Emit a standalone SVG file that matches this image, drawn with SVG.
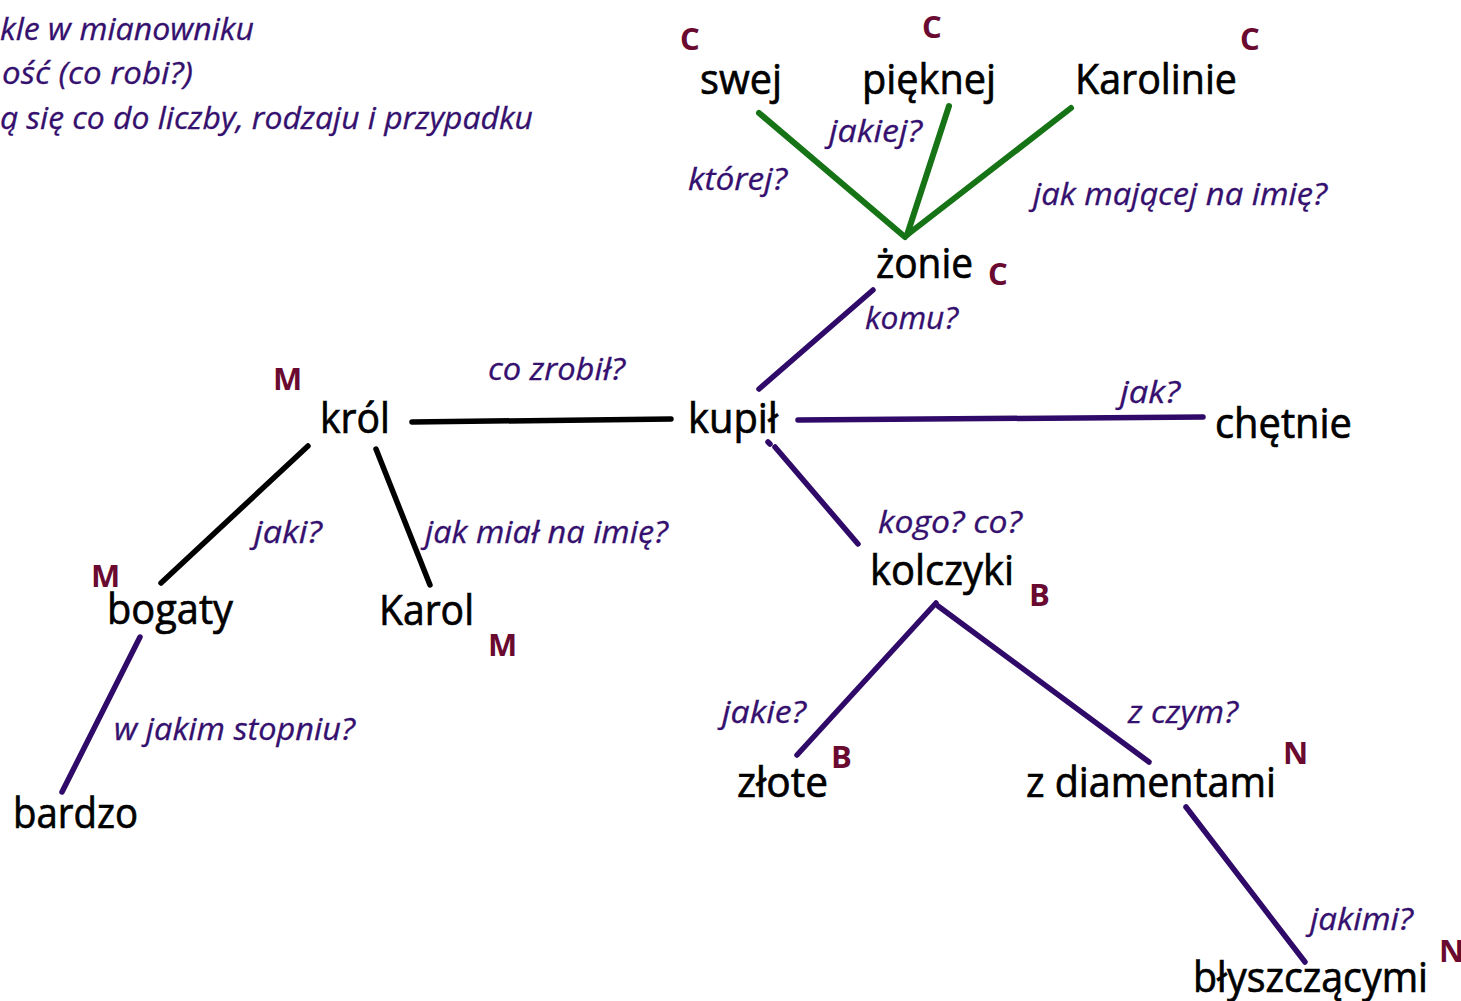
<svg xmlns="http://www.w3.org/2000/svg" width="1461" height="1001" viewBox="0 0 1461 1001">
<style>
.w{font-family:"Open Sans","Noto Sans",sans-serif;font-size:42px;fill:#000;stroke:#000;stroke-width:0.7px}
.q{font-family:"Open Sans","Noto Sans",sans-serif;font-size:31px;font-style:italic;fill:#35106e;stroke:#35106e;stroke-width:0.3px}
.c{font-family:"Open Sans","Noto Sans",sans-serif;font-size:31px;font-weight:bold;fill:#6a0a30}
.lg{stroke:#167416;stroke-width:6;stroke-linecap:round;fill:none}
.lp{stroke:#300a68;stroke-width:5.5;stroke-linecap:round;fill:none}
.lb{stroke:#000;stroke-width:5.5;stroke-linecap:round;fill:none}
</style>
<rect width="1461" height="1001" fill="#fff"/>
<g id="legend">
<text class="q" x="0" y="40" textLength="254" lengthAdjust="spacingAndGlyphs">kle w mianowniku</text>
<text class="q" x="2" y="84" textLength="191" lengthAdjust="spacingAndGlyphs">ość (co robi?)</text>
<text class="q" x="0" y="129" textLength="533" lengthAdjust="spacingAndGlyphs">ą się co do liczby, rodzaju i przypadku</text>
</g>
<g id="connectors">
<line class="lg" x1="759" y1="113" x2="905" y2="237"/>
<line class="lg" x1="949" y1="106" x2="907" y2="235"/>
<line class="lg" x1="1071" y1="108" x2="907" y2="235"/>
<line class="lp" x1="873" y1="290" x2="759" y2="389"/>
<line class="lp" x1="798" y1="420" x2="1203" y2="417"/>
<line class="lp" x1="768" y1="442" x2="770" y2="444"/>
<line class="lp" x1="775" y1="447" x2="858" y2="544"/>
<line class="lp" x1="936" y1="603" x2="797" y2="755"/>
<line class="lp" x1="938" y1="606" x2="1149" y2="762"/>
<line class="lp" x1="1186" y1="807" x2="1305" y2="962"/>
<line class="lp" x1="140" y1="637" x2="62" y2="792"/>
<line class="lb" x1="412" y1="422" x2="671" y2="419"/>
<line class="lb" x1="308" y1="446" x2="161" y2="583"/>
<line class="lb" x1="376" y1="449" x2="430" y2="585"/>
</g>
<g id="edge-labels">
<text class="q" x="829" y="142" textLength="93" lengthAdjust="spacingAndGlyphs">jakiej?</text>
<text class="q" x="688" y="190" textLength="99" lengthAdjust="spacingAndGlyphs">której?</text>
<text class="q" x="1033" y="205" textLength="294" lengthAdjust="spacingAndGlyphs">jak mającej na imię?</text>
<text class="q" x="865" y="329" textLength="93" lengthAdjust="spacingAndGlyphs">komu?</text>
<text class="q" x="488" y="380" textLength="137" lengthAdjust="spacingAndGlyphs">co zrobił?</text>
<text class="q" x="1120" y="403" textLength="60" lengthAdjust="spacingAndGlyphs">jak?</text>
<text class="q" x="254" y="543" textLength="68" lengthAdjust="spacingAndGlyphs">jaki?</text>
<text class="q" x="425" y="543" textLength="243" lengthAdjust="spacingAndGlyphs">jak miał na imię?</text>
<text class="q" x="878" y="533" textLength="144" lengthAdjust="spacingAndGlyphs">kogo? co?</text>
<text class="q" x="722" y="723" textLength="84" lengthAdjust="spacingAndGlyphs">jakie?</text>
<text class="q" x="1128" y="723" textLength="110" lengthAdjust="spacingAndGlyphs">z czym?</text>
<text class="q" x="114" y="740" textLength="241" lengthAdjust="spacingAndGlyphs">w jakim stopniu?</text>
<text class="q" x="1310" y="930" textLength="103" lengthAdjust="spacingAndGlyphs">jakimi?</text>
</g>
<g id="node-swej"><text class="w" x="700" y="94" textLength="82" lengthAdjust="spacingAndGlyphs">swej</text><text class="c" x="680" y="50">C</text></g>
<g id="node-pieknej"><text class="w" x="862" y="94" textLength="134" lengthAdjust="spacingAndGlyphs">pięknej</text><text class="c" x="922" y="38">C</text></g>
<g id="node-karolinie"><text class="w" x="1075" y="94" textLength="162" lengthAdjust="spacingAndGlyphs">Karolinie</text><text class="c" x="1240" y="50">C</text></g>
<g id="node-zonie"><text class="w" x="876" y="278" textLength="97" lengthAdjust="spacingAndGlyphs">żonie</text><text class="c" x="988" y="285">C</text></g>
<g id="node-krol"><text class="w" x="320" y="433" textLength="70" lengthAdjust="spacingAndGlyphs">król</text><text class="c" x="273" y="390">M</text></g>
<g id="node-kupil"><text class="w" x="688" y="433" textLength="90" lengthAdjust="spacingAndGlyphs">kupił</text></g>
<g id="node-chetnie"><text class="w" x="1215" y="438" textLength="137" lengthAdjust="spacingAndGlyphs">chętnie</text></g>
<g id="node-kolczyki"><text class="w" x="870" y="585" textLength="144" lengthAdjust="spacingAndGlyphs">kolczyki</text><text class="c" x="1029" y="606">B</text></g>
<g id="node-bogaty"><text class="w" x="107" y="624" textLength="126" lengthAdjust="spacingAndGlyphs">bogaty</text><text class="c" x="91" y="587">M</text></g>
<g id="node-karol"><text class="w" x="379" y="625" textLength="95" lengthAdjust="spacingAndGlyphs">Karol</text><text class="c" x="488" y="656">M</text></g>
<g id="node-zlote"><text class="w" x="737" y="797" textLength="91" lengthAdjust="spacingAndGlyphs">złote</text><text class="c" x="831" y="768">B</text></g>
<g id="node-zdiamentami"><text class="w" x="1026" y="797" textLength="250" lengthAdjust="spacingAndGlyphs">z diamentami</text><text class="c" x="1283" y="764">N</text></g>
<g id="node-bardzo"><text class="w" x="13" y="828" textLength="125" lengthAdjust="spacingAndGlyphs">bardzo</text></g>
<g id="node-blyszczacymi"><text class="w" x="1193" y="992" textLength="235" lengthAdjust="spacingAndGlyphs">błyszczącymi</text><text class="c" x="1439" y="962">N</text></g>
</svg>
